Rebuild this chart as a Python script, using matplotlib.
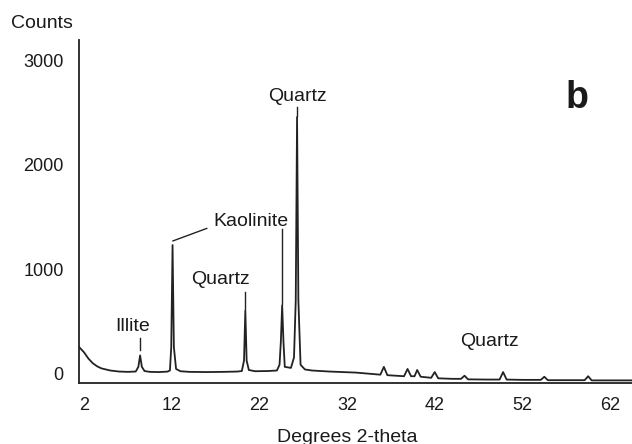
import matplotlib
matplotlib.use("Agg")
import matplotlib.pyplot as plt

two_theta = [1.45, 2.0, 2.5, 3.0, 3.5, 4.0, 5.0, 6.0, 7.0, 7.9,
             8.2, 8.4, 8.6, 8.9, 9.5, 10.5, 11.5, 11.8, 11.95, 12.1,
             12.25, 12.5, 13.0, 14.0, 16.0, 18.0, 19.5, 20.0, 20.25, 20.4,
             20.55, 20.8, 21.5, 23.0, 24.0, 24.3, 24.45, 24.6, 24.75, 24.9,
             25.6, 25.95, 26.15, 26.3, 26.45, 26.7, 27.2, 28.0, 30.0, 33.0,
             35.8, 36.2, 36.6, 38.5, 38.9, 39.3, 39.7, 40.0, 40.4, 41.6,
             42.0, 42.4, 44.0, 45.0, 45.4, 45.8, 48.0, 49.4, 49.8, 50.2,
             52.0, 54.1, 54.5, 54.9, 57.0, 59.1, 59.5, 59.9, 62.0, 64.5]
counts = [250, 200, 140, 95, 65, 45, 25, 15, 12, 15,
          60, 170, 60, 20, 12, 10, 14, 25, 250, 1230,
          250, 40, 18, 12, 10, 12, 15, 20, 120, 600,
          120, 30, 18, 20, 25, 80, 300, 650, 300, 60,
          50, 150, 700, 2460, 700, 80, 35, 25, 15, 5,
          -15, 60, -20, -30, 40, -30, -30, 30, -35, -45,
          10, -50, -55, -55, -25, -60, -62, -62, 10, -62,
          -65, -65, -35, -68, -68, -68, -30, -70, -70, -70]

yticks = [0, 1000, 2000, 3000]
xticks = [2, 12, 22, 32, 42, 52, 62]

# Peak labels
peak_labels = ["Illite", "Kaolinite", "Quartz", "Quartz", "Quartz"]
label_x = [7.6, 21.0, 17.6, 26.4, 48.3]
label_y = [450, 1460, 900, 2660, 300]

plt.rcParams['font.family'] = ['Liberation Sans', 'DejaVu Sans']

fig = plt.figure(figsize=(6.32, 4.44), dpi=100)
ax = fig.add_axes([0.125, 0.1374, 0.875, 0.7725])

ax.plot(two_theta, counts, color='#222222', lw=1.3)

ax.set_xlim(1.43, 64.5)
ax.set_ylim(-95, 3200)
ax.set_xticks(xticks)
ax.set_yticks(yticks)
ax.tick_params(length=0, labelsize=13, colors='#1a1a1a')
ax.tick_params(axis='x', pad=10)
ax.tick_params(axis='y', pad=11)
for s in ['top', 'right']:
    ax.spines[s].set_visible(False)
for s in ['left', 'bottom']:
    ax.spines[s].set_color('#222222')
    ax.spines[s].set_linewidth(1.3)

for t, lx, ly in zip(peak_labels, label_x, label_y):
    ax.text(lx, ly, t, ha='center', va='center', fontsize=14, color='#1a1a1a')

# leader lines
lc = dict(color='#222222', lw=1.0)
ax.plot([8.4, 8.4], [220, 340], **lc)
ax.plot([12.15, 16.0], [1270, 1390], **lc)
ax.plot([24.6, 24.6], [660, 1380], **lc)
ax.plot([20.4, 20.4], [620, 780], **lc)
ax.plot([26.3, 26.3], [2470, 2560], **lc)

fig.text(42 / 632, 1 - 23 / 444, "Counts", ha='center', va='center', fontsize=14, color='#1a1a1a')
fig.text(347 / 632, 1 - 437 / 444, "Degrees 2-theta", ha='center', va='center', fontsize=14, color='#1a1a1a')
fig.text(577 / 632, 1 - 98 / 444, "b", ha='center', va='center', fontsize=27, fontweight='bold', color='#1a1a1a')

fig.savefig("out.png", dpi=100, facecolor='white')
